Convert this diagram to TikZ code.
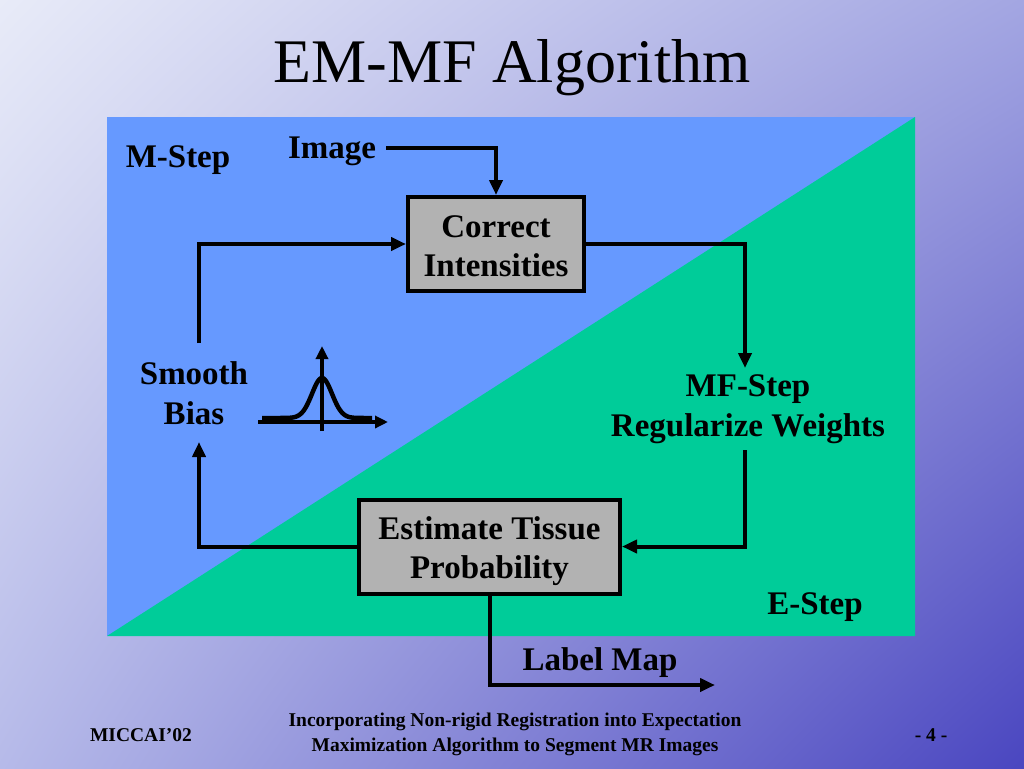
\documentclass[tikz,border=0pt]{standalone}
\usepackage{fontspec}
\setmainfont{Liberation Serif}
\usetikzlibrary{arrows.meta,shadings}
\definecolor{bgUL}{HTML}{E8EBF8}
\definecolor{bgUR}{HTML}{A3A6E2}
\definecolor{bgLL}{HTML}{B6BAE9}
\definecolor{bgLR}{HTML}{4A46C0}
\definecolor{mblue}{HTML}{6699FF}
\definecolor{egreen}{HTML}{00CC99}
\definecolor{boxgray}{HTML}{B2B2B2}
\newcommand{\lblfont}{\fontsize{33}{40.5}\selectfont\bfseries}
\newcommand{\footfont}{\fontsize{19.5}{25}\selectfont\bfseries}
\newcommand{\boxtext}[2]{\raisebox{-#1}[\height][\depth]{\renewcommand{\arraystretch}{0.96}\begin{tabular}{@{}c@{}}#2\end{tabular}}}
\begin{document}
\begin{tikzpicture}[x=1pt,y=-1pt,
  conn/.style={line width=4pt,-{Triangle[length=15pt,width=13pt]}},
  procbox/.style={draw,line width=4pt,fill=boxgray,minimum height=94pt,inner sep=0pt,align=center,font=\lblfont},
  lbl/.style={font=\lblfont,align=center,inner sep=0pt},
  foot/.style={font=\footfont,align=center,inner sep=0pt}]
\useasboundingbox (0,0) rectangle (1024,768);
\shade[upper left=bgUL,upper right=bgUR,lower left=bgLL,lower right=bgLR] (0,0) rectangle (1024,768);
\fill[mblue] (107,117) rectangle (915,636);
\fill[egreen] (107,636) -- (915,117) -- (915,636) -- cycle;

% title
\node[anchor=base,inner sep=0pt,font=\fontsize{62}{70}\selectfont] (title) at (512,82) {EM-MF Algorithm};

% labels
\node[lbl] (mstep) at (178,160) {M-Step};
\node[lbl] (estep) at (815,607) {E-Step};
\node[lbl] (image) at (332,151) {Image};
\node[lbl] (smooth) at (194,393) {Smooth\\Bias};
\node[lbl] (mf) at (748,409) {MF-Step\\Regularize Weights};
\node[lbl] (labelmap) at (600,663) {Label Map};

% boxes
\node[procbox,minimum width=176pt] (ci) at (496,244) {\boxtext{5pt}{Correct\\Intensities}};
\node[procbox,minimum width=261pt] (est) at (489.5,546.5) {\boxtext{5pt}{Estimate Tissue\\Probability}};

% free ends
\coordinate (imgout) at (386,148);
\coordinate (smtop) at (199,343);
\coordinate (smbot) at (199,442);
\coordinate (mfin) at (745,368);
\coordinate (mfout) at (745,450);
\coordinate (lmout) at (715,685);

% connectors
\draw[conn] (imgout) -| (ci.north);
\draw[conn] (smtop) |- (ci.west);
\draw[conn] (ci.east) -| (mfin);
\draw[conn] (mfout) |- (est.east);
\draw[conn] (est.west) -| (smbot);
\draw[conn] (est.south) |- (lmout);

% gaussian sketch
\coordinate (hx0) at (258,422);
\coordinate (hx1) at (388,422);
\coordinate (vy0) at (322,431);
\coordinate (vy1) at (322,346);
\draw[line width=3.5pt,-{Triangle[length=13pt,width=12pt]}] (hx0) -- (hx1);
\draw[line width=3.5pt,-{Triangle[length=13pt,width=12pt]}] (vy0) -- (vy1);
\draw[line width=4.5pt,line join=round] plot[domain=262:372,samples=90,smooth] (\x,{418-40*exp(-((\x-322)^2)/200)});

% footer
\node[foot] (conf) at (141,735) {MICCAI’02};
\node[foot] (ftitle) at (515,734.5) {Incorporating Non-rigid Registration into Expectation\\Maximization Algorithm to Segment MR Images};
\node[foot] (page) at (931,735) {- 4 -};
\end{tikzpicture}
\end{document}
